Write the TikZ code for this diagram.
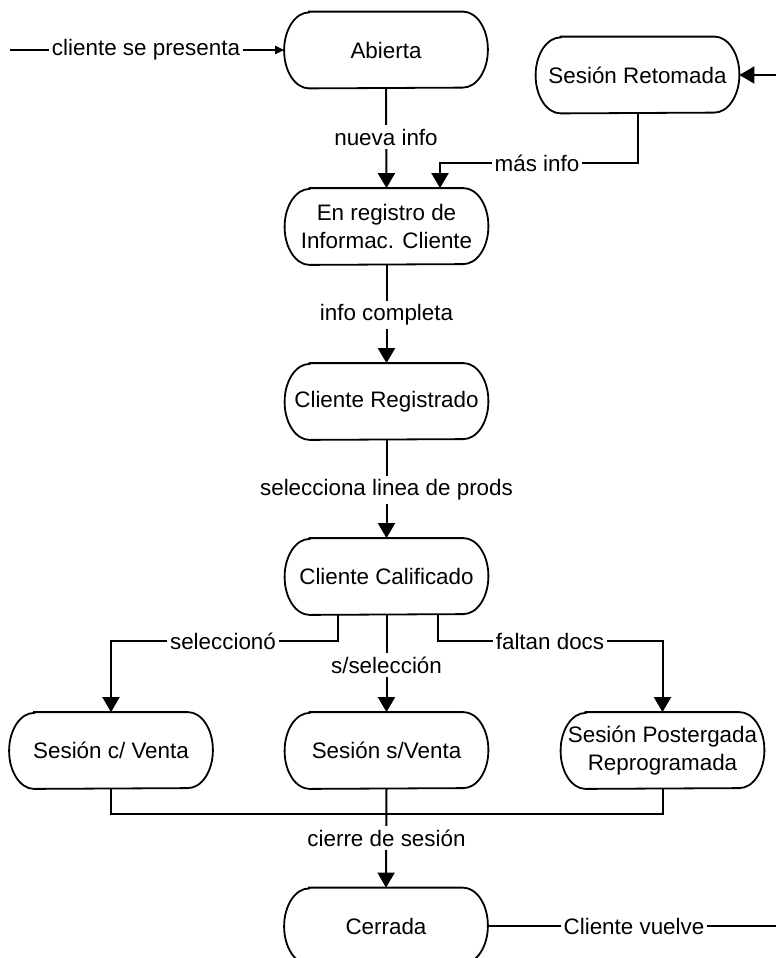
\documentclass[tikz,border=0pt]{standalone}
\usepackage{fontspec}
\setmainfont{Liberation Sans}
\usetikzlibrary{arrows.meta}

\tikzset{
  txt/.style={font=\fontsize{11.2}{13.6}\selectfont},
  % state box: flat top and bottom, elliptical ends
  statebox/.style={
    txt, minimum width=101.5pt, minimum height=38pt, inner sep=1pt, align=center,
    append after command={
      \pgfextra{
        \let\sbnode=\tikzlastnode
        \draw[line width=0.9pt]
          ([xshift=12.5pt]\sbnode.north west) -- ([xshift=-12.5pt]\sbnode.north east)
          arc[start angle=90, end angle=-90, x radius=12.5pt, y radius=19pt]
          -- ([xshift=12.5pt]\sbnode.south west)
          arc[start angle=270, end angle=90, x radius=12.5pt, y radius=19pt]
          -- cycle;
      }
    }
  },
  conlabel/.style={txt, fill=white, inner xsep=1.5pt, inner ysep=2pt},
  conn/.style={line width=1pt},
  arr/.style={conn, -{Triangle[length=7.5pt,width=8.5pt]}},
  smallarr/.style={conn, -{Triangle[length=4.5pt,width=4pt]}},
}

\begin{document}
\begin{tikzpicture}[x=0.5pt,y=-0.5pt]
  \useasboundingbox (0,0) rectangle (776,958);
  \fill[white] (0,0) rectangle (776,958);

  % states
  \node[statebox] (abierta)    at (386,50)    {Abierta};
  \node[statebox] (retomada)   at (637.5,75)  {Sesión Retomada};
  \node[statebox] (registro)   at (386.5,226.5) {En registro de\\Informac. Cliente};
  \node[statebox] (registrado) at (386.5,401.5) {Cliente Registrado};
  \node[statebox] (calificado) at (386.5,576.5) {Cliente Calificado};
  \node[statebox] (conventa)   at (111,750.5)   {Sesión c/ Venta};
  \node[statebox] (sinventa)   at (386.5,750.5) {Sesión s/Venta};
  \node[statebox] (postergada) at (662.5,750.5) {Sesión Postergada\\Reprogramada};
  \node[statebox] (cerrada)    at (386,926)     {Cerrada};

  % free ends at the margins
  \coordinate (entry)  at (10,50);
  \coordinate (exitR)  at (776,926);
  \coordinate (backR)  at (776,75);
  \coordinate (merge)  at (386.5,814);

  % transitions
  \draw[smallarr] (entry) -- (abierta.west);
  \draw[arr] (abierta.south) -- (registro.north);
  \draw[arr] (retomada.south) -- ++(0,50) -| ([xshift=26.75pt]registro.north);
  \draw[arr] (backR) -- (retomada.east);
  \draw[arr] (registro.south) -- (registrado.north);
  \draw[arr] (registrado.south) -- (calificado.north);
  \draw[arr] ([xshift=-24.25pt]calificado.south) -- ++(0,26) -| (conventa.north);
  \draw[arr] (calificado.south) -- (sinventa.north);
  \draw[arr] ([xshift=25.75pt]calificado.south) -- ++(0,26) -| (postergada.north);
  \draw[conn] (conventa.south) |- (merge);
  \draw[conn] (postergada.south) |- (merge);
  \draw[arr] (sinventa.south) -- (cerrada.north);
  \draw[conn] (cerrada.east) -- (exitR);

  % transition labels
  \node[conlabel] (lpresenta) at (146,50)   {cliente se presenta};
  \node[conlabel] (lnueva)    at (386,137)  {nueva info};
  \node[conlabel] (lmas)      at (537,163)  {más info};
  \node[conlabel] (lcompleta) at (386.5,315) {info completa};
  \node[conlabel] (lprods)    at (386.5,490) {selecciona linea de prods};
  \node[conlabel] (lselec)    at (223,641)  {seleccionó};
  \node[conlabel] (lsinsel)   at (386.5,665) {s/selección};
  \node[conlabel] (lfaltan)   at (550,641)  {faltan docs};
  \node[conlabel] (lcierre)   at (386.5,838) {cierre de sesión};
  \node[conlabel] (lvuelve)   at (634,926)  {Cliente vuelve};
\end{tikzpicture}
\end{document}
